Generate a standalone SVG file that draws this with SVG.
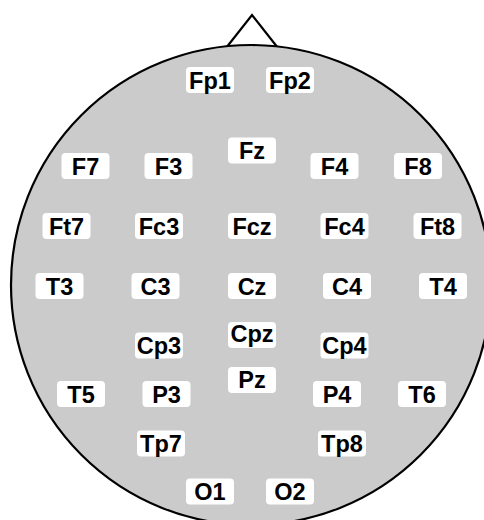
<svg xmlns="http://www.w3.org/2000/svg" width="484" height="520" viewBox="0 0 484 520">
<style>
.lbl text{font-family:"Liberation Sans","DejaVu Sans",sans-serif;font-weight:bold;font-size:23.5px;fill:#000;text-anchor:middle}
.head{fill:#cbcbcb;stroke:#000;stroke-width:2.2}
.nose{fill:none;stroke:#000;stroke-width:2.2;stroke-linejoin:miter}
</style>
<defs>
<rect id="b" x="-24" y="-13" width="48" height="26" rx="4" fill="#ffffff" stroke="none"/>
</defs>
<rect width="484" height="520" fill="#ffffff"/>
<g id="head">
<polyline class="nose" points="226,48 252,15 278,48"/>
<circle class="head" cx="251" cy="285" r="240"/>
</g>
<g id="connectors"/>
<g class="lbl">
<g id="Fp1" transform="translate(210,80)"><use href="#b"/><text y="8.5">Fp1</text></g>
<g id="Fp2" transform="translate(290,80)"><use href="#b"/><text y="8.5">Fp2</text></g>
<g id="F7" transform="translate(85.5,166)"><use href="#b"/><text y="8.5">F7</text></g>
<g id="F3" transform="translate(168.5,166)"><use href="#b"/><text y="8.5">F3</text></g>
<g id="Fz" transform="translate(252,150.5)"><use href="#b"/><text y="8.5">Fz</text></g>
<g id="F4" transform="translate(334.5,166)"><use href="#b"/><text y="8.5">F4</text></g>
<g id="F8" transform="translate(418,166)"><use href="#b"/><text y="8.5">F8</text></g>
<g id="Ft7" transform="translate(66.5,226)"><use href="#b"/><text y="8.5">Ft7</text></g>
<g id="Fc3" transform="translate(159,226)"><use href="#b"/><text y="8.5">Fc3</text></g>
<g id="Fcz" transform="translate(252,226)"><use href="#b"/><text y="8.5">Fcz</text></g>
<g id="Fc4" transform="translate(344.5,226)"><use href="#b"/><text y="8.5">Fc4</text></g>
<g id="Ft8" transform="translate(437.5,226)"><use href="#b"/><text y="8.5">Ft8</text></g>
<g id="T3" transform="translate(59.5,286)"><use href="#b"/><text y="8.5">T3</text></g>
<g id="C3" transform="translate(155.5,286)"><use href="#b"/><text y="8.5">C3</text></g>
<g id="Cz" transform="translate(252,286)"><use href="#b"/><text y="8.5">Cz</text></g>
<g id="C4" transform="translate(347,286)"><use href="#b"/><text y="8.5">C4</text></g>
<g id="T4" transform="translate(443,286)"><use href="#b"/><text y="8.5">T4</text></g>
<g id="Cpz" transform="translate(252,335)"><use href="#b"/><text y="7">Cpz</text></g>
<g id="Cp3" transform="translate(159,345.5)"><use href="#b"/><text y="8">Cp3</text></g>
<g id="Cp4" transform="translate(344.5,345.5)"><use href="#b"/><text y="8">Cp4</text></g>
<g id="Pz" transform="translate(252,380)"><use href="#b"/><text y="8">Pz</text></g>
<g id="T5" transform="translate(81,394)"><use href="#b"/><text y="8.5">T5</text></g>
<g id="P3" transform="translate(166.5,394)"><use href="#b"/><text y="8.5">P3</text></g>
<g id="P4" transform="translate(337,394)"><use href="#b"/><text y="8.5">P4</text></g>
<g id="T6" transform="translate(422,394)"><use href="#b"/><text y="8.5">T6</text></g>
<g id="Tp7" transform="translate(161,443.5)"><use href="#b"/><text y="8">Tp7</text></g>
<g id="Tp8" transform="translate(342,443.5)"><use href="#b"/><text y="8">Tp8</text></g>
<g id="O1" transform="translate(210,491.5)"><use href="#b"/><text y="8.5">O1</text></g>
<g id="O2" transform="translate(290,491.5)"><use href="#b"/><text y="8.5">O2</text></g>
</g>
</svg>
